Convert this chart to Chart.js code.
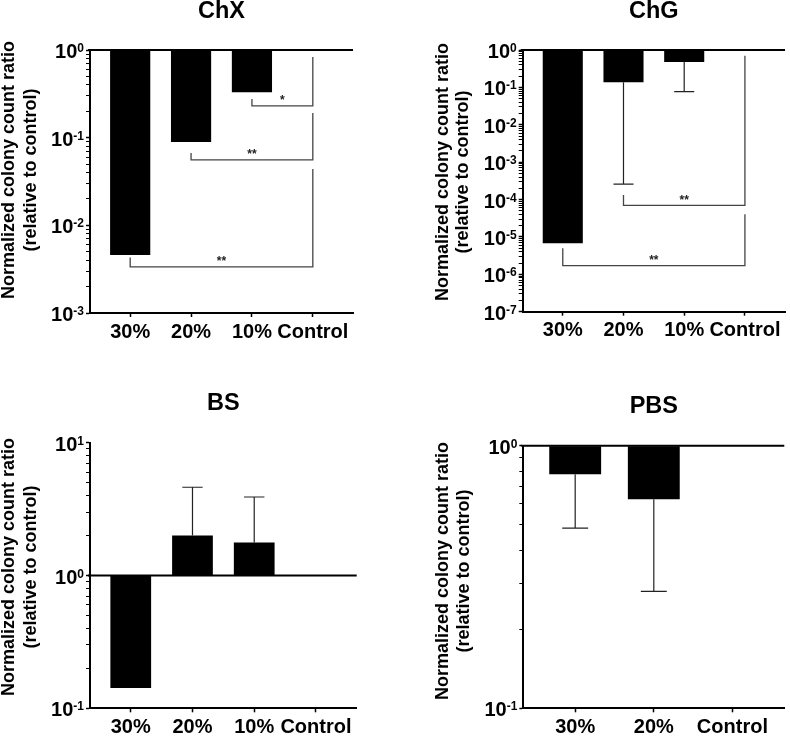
<!DOCTYPE html>
<html><head><meta charset="utf-8">
<script src="https://cdn.jsdelivr.net/npm/chart.js@4.4.0/dist/chart.umd.min.js"></script>
<style>
html,body{margin:0;padding:0;background:#fff;}
#wrap{position:relative;width:790px;height:736px;overflow:hidden;}
canvas{position:absolute;}
</style></head><body>
<div id="wrap">
<canvas id="cChX" width="395" height="360" style="left:0;top:0"></canvas>
<canvas id="cChG" width="395" height="360" style="left:395px;top:0"></canvas>
<canvas id="cBS" width="395" height="376" style="left:0;top:360px"></canvas>
<canvas id="cPBS" width="395" height="376" style="left:395px;top:360px"></canvas>
</div>
<script>
// ---------- DATA ----------
const chxCategories = ['30%', '20%', '10%', 'Control'];
const chxValues = [0.0046, 0.089, 0.33, 1];
const chxErrors = [null, null, null, null];
const chxExponents = [-3, -2, -1, 0];
// [fromIndex, toIndex, lineValue, leftTopValue, rightTopValue, label]
const chxBrackets = [
  [2, 3, 0.23, 0.276, 0.83, '*'],
  [1, 3, 0.0557, 0.067, 0.191, '**'],
  [0, 3, 0.00336, 0.0043, 0.044, '**']
];

const chgCategories = ['30%', '20%', '10%', 'Control'];
const chgValues = [6.8e-6, 0.137, 0.48, 1];
const chgErrors = [null, 2.6e-4, 0.077, null];
const chgExponents = [-7, -6, -5, -4, -3, -2, -1, 0];
const chgBrackets = [
  [1, 3, 7.0e-5, 1.33e-4, 0.70, '**'],
  [0, 3, 1.71e-6, 5.0e-6, 4.05e-5, '**']
];

const bsCategories = ['30%', '20%', '10%', 'Control'];
const bsValues = [0.142, 2.0, 1.77, 1];
const bsErrors = [null, 4.62, 3.9, null];
const bsExponents = [-1, 0, 1];
const bsBrackets = [];

const pbsCategories = ['30%', '20%', 'Control'];
const pbsValues = [0.778, 0.625, 1];
const pbsErrors = [0.485, 0.279, null];
const pbsExponents = [-1, 0];
const pbsBrackets = [];

const yTitleLines = ['Normalized colony count ratio', '(relative to control)'];

// ---------- LAYOUT ----------
const FONT = "'Liberation Sans', Arial, Helvetica, sans-serif";

function makePanel(canvasId, title, cats, vals, errs, exps, brackets, L) {
  const n = cats.length;
  const deco = {
    id: 'deco_' + canvasId,
    afterDatasetsDraw(chart) {
      const ctx = chart.ctx, ys = chart.scales.y, xs = chart.scales.x, area = chart.chartArea;
      ctx.save();
      // reference line at 1
      const y1 = ys.getPixelForValue(1);
      ctx.strokeStyle = '#000'; ctx.lineWidth = 2;
      ctx.beginPath(); ctx.moveTo(area.left - 2, y1); ctx.lineTo(area.right, y1); ctx.stroke();
      // error bars
      const meta = chart.getDatasetMeta(0);
      ctx.strokeStyle = '#222'; ctx.lineWidth = 1.2;
      errs.forEach((e, i) => {
        if (e == null) return;
        const bar = meta.data[i];
        const ye = ys.getPixelForValue(e);
        const half = bar.width / 4;
        ctx.beginPath();
        ctx.moveTo(bar.x, bar.y); ctx.lineTo(bar.x, ye);
        ctx.moveTo(bar.x - half, ye); ctx.lineTo(bar.x + half, ye);
        ctx.stroke();
      });
      // significance brackets
      ctx.strokeStyle = '#444'; ctx.lineWidth = 1.3;
      ctx.fillStyle = '#222';
      ctx.font = 'bold 12px ' + FONT;
      ctx.textAlign = 'center'; ctx.textBaseline = 'alphabetic';
      brackets.forEach(b => {
        const xl = xs.getPixelForValue(b[0]), xr = xs.getPixelForValue(b[1]);
        const yl = ys.getPixelForValue(b[2]);
        ctx.beginPath();
        ctx.moveTo(xl, ys.getPixelForValue(b[3]));
        ctx.lineTo(xl, yl); ctx.lineTo(xr, yl);
        ctx.lineTo(xr, ys.getPixelForValue(b[4]));
        ctx.stroke();
        ctx.fillText(b[5], (xl + xr) / 2, yl - 1.5);
      });
      ctx.restore();
    },
    afterDraw(chart) {
      const ctx = chart.ctx, ys = chart.scales.y, area = chart.chartArea;
      ctx.save();
      ctx.fillStyle = '#000';
      // title
      ctx.font = 'bold 23.5px ' + FONT;
      ctx.textAlign = 'center'; ctx.textBaseline = 'middle';
      ctx.fillText(title, (area.left + area.right) / 2, L.titleY);
      // y tick labels 10^n
      ys.ticks.forEach(t => {
        if (!t.major) return;
        const py = ys.getPixelForValue(t.value);
        const ex = String(Math.round(Math.log10(t.value)));
        ctx.font = 'bold 12px ' + FONT;
        const ew = ctx.measureText(ex).width;
        const exRight = area.left - 6;
        ctx.textAlign = 'right'; ctx.textBaseline = 'alphabetic';
        ctx.fillText(ex, exRight, py + 2);
        ctx.font = 'bold 20px ' + FONT;
        ctx.fillText('10', exRight - ew, py + 8);
      });
      // y-axis title
      ctx.font = 'bold 18px ' + FONT;
      ctx.textAlign = 'center'; ctx.textBaseline = 'middle';
      yTitleLines.forEach((line, k) => {
        ctx.save();
        ctx.translate(L.yTitleX[k], L.yTitleY);
        ctx.rotate(-Math.PI / 2);
        ctx.fillText(line, 0, 0);
        ctx.restore();
      });
      ctx.restore();
    }
  };

  return new Chart(document.getElementById(canvasId), {
    type: 'bar',
    data: {
      datasets: [{
        data: vals.map((v, i) => ({ x: i, y: v })),
        base: 1,
        backgroundColor: '#000',
        borderWidth: 0,
        barPercentage: 0.66,
        categoryPercentage: 1
      }]
    },
    options: {
      responsive: false,
      animation: false,
      devicePixelRatio: 1,
      layout: { padding: { left: 0, top: L.plot[1], right: L.w - L.plot[2], bottom: 0 } },
      plugins: { legend: { display: false }, tooltip: { enabled: false }, title: { display: false } },
      scales: {
        x: {
          type: 'linear', offset: false,
          min: -0.66, max: n - 1 + 0.66,
          afterBuildTicks: s => { s.ticks = cats.map((c, i) => ({ value: i })); },
          afterFit: s => { s.height = L.h - L.plot[3]; },
          ticks: {
            callback: v => cats[v], color: '#000', padding: 3, autoSkip: false, maxRotation: 0,
            font: { family: FONT, size: 20, weight: 'bold' }
          },
          grid: { offset: false, drawOnChartArea: false, drawTicks: true, tickLength: 4, tickColor: '#000', tickWidth: 1.5 },
          border: { display: true, color: '#000', width: 2 }
        },
        y: {
          type: 'logarithmic',
          min: Math.pow(10, exps[0]), max: Math.pow(10, exps[exps.length - 1]),
          afterBuildTicks: s => {
            const t = [];
            exps.forEach((e, k) => {
              t.push({ value: Math.pow(10, e), major: true });
              if (k < exps.length - 1) for (let m = 2; m <= 9; m++) t.push({ value: m * Math.pow(10, e), major: false });
            });
            s.ticks = t;
          },
          afterFit: s => { s.width = L.plot[0]; },
          ticks: { callback: () => '', autoSkip: false, padding: 0 },
          grid: {
            drawOnChartArea: false, drawTicks: true, tickLength: 4, tickColor: '#000',
            tickWidth: c => (c.tick && c.tick.major) ? 1.5 : 1
          },
          border: { display: true, color: '#000', width: 2 }
        }
      }
    },
    plugins: [deco]
  });
}

makePanel('cChX', 'ChX', chxCategories, chxValues, chxErrors, chxExponents, chxBrackets,
  { w: 395, h: 360, plot: [90, 50, 353, 313], titleY: 12, yTitleX: [9, 31.5], yTitleY: 170 });
makePanel('cChG', 'ChG', chgCategories, chgValues, chgErrors, chgExponents, chgBrackets,
  { w: 395, h: 360, plot: [127.7, 50, 390, 311.7], titleY: 12, yTitleX: [48.5, 68.5], yTitleY: 172 });
makePanel('cBS', 'BS', bsCategories, bsValues, bsErrors, bsExponents, bsBrackets,
  { w: 395, h: 376, plot: [90, 82.7, 356.7, 348.3], titleY: 43.3, yTitleX: [9, 31.5], yTitleY: 207 });
makePanel('cPBS', 'PBS', pbsCategories, pbsValues, pbsErrors, pbsExponents, pbsBrackets,
  { w: 395, h: 376, plot: [128.3, 85.7, 389.3, 348.3], titleY: 46.7, yTitleX: [48.5, 69], yTitleY: 211 });
</script>
</body></html>
